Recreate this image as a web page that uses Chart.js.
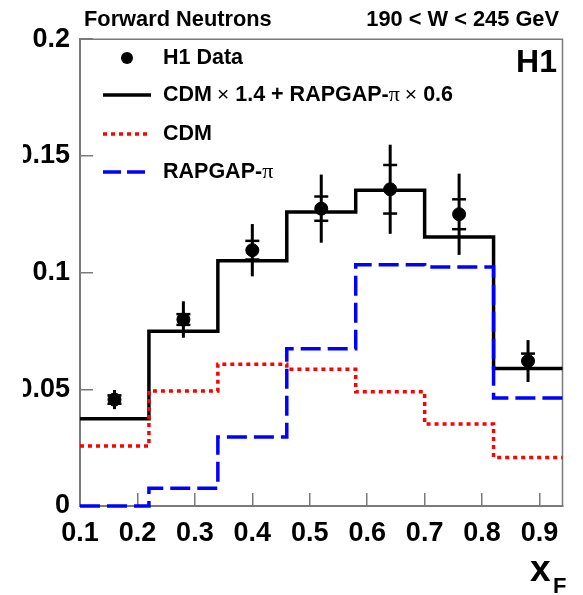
<!DOCTYPE html>
<html>
<head>
<meta charset="utf-8">
<script src="https://cdn.jsdelivr.net/npm/chart.js@4/dist/chart.umd.min.js"></script>
<style>
  html, body { margin: 0; padding: 0; background: #fff; }
  body { width: 583px; height: 595px; position: relative; overflow: hidden; }
  #c { position: absolute; left: 23px; top: 0; }
</style>
</head>
<body>
<canvas id="c" width="560" height="595"></canvas>
<script>
"use strict";

// bin edges in x_F and the three model histograms (one value per bin)
const EDGES = [0.1, 0.22, 0.34, 0.46, 0.58, 0.70, 0.82, 0.94];
const SUMA = [0.0374, 0.0749, 0.1051, 0.1260, 0.1353, 0.1153, 0.0589];
const CDM = [0.0257, 0.0493, 0.0607, 0.0586, 0.0489, 0.0351, 0.0208];
const RAPGAP = [0.0, 0.0076, 0.0296, 0.0674, 0.1034, 0.1024, 0.0463];

// H1 data: bin centres, values, total and statistical errors
const XF = [0.16, 0.28, 0.40, 0.52, 0.64, 0.76, 0.88];
const DATA = [0.0456, 0.0799, 0.1096, 0.1274, 0.1357, 0.1250, 0.0621];
const ERR_TOT = [0.0041, 0.0078, 0.0112, 0.0146, 0.0191, 0.0174, 0.0090];
const ERR_STAT = [0.0018, 0.0023, 0.0040, 0.0052, 0.0104, 0.0064, 0.0032];

const FONT = "'Liberation Sans', Arial, Helvetica, sans-serif";
const AXIS_GRAY = "#7a7a7a";

Chart.defaults.font.family = FONT;
Chart.defaults.color = "#000";

// one point per edge; the last edge repeats the last bin so the step closes
function histo(vals) {
  return EDGES.map((x, i) => ({ x, y: vals[Math.min(i, vals.length - 1)] }));
}

function lineSet(label, vals, color, dash, order) {
  return {
    type: "line", label, data: histo(vals), stepped: "before",
    borderColor: color, borderWidth: 3.5, borderDash: dash,
    pointRadius: 0, fill: false, clip: 8, order,
  };
}

// draws text made of pieces in different fonts, left to right
function runs(ctx, x, y, parts) {
  ctx.textBaseline = "middle";
  ctx.textAlign = "left";
  for (const [txt, font] of parts) {
    if (typeof txt === "number") { x += txt; continue; }
    ctx.font = font;
    ctx.fillText(txt, x, y);
    x += ctx.measureText(txt).width;
  }
}

const marcos = {
  id: "marcos",
  beforeDatasetsDraw(chart) {
    const { ctx, chartArea: a } = chart;
    ctx.save();
    ctx.strokeStyle = AXIS_GRAY;
    ctx.lineWidth = 1.5;
    ctx.beginPath();
    ctx.moveTo(a.left, a.top);
    ctx.lineTo(a.right, a.top);
    ctx.lineTo(a.right, a.bottom);
    ctx.stroke();
    ctx.restore();
  },
  afterDatasetsDraw(chart) {
    const { ctx, scales: { x, y } } = chart;
    ctx.save();
    ctx.strokeStyle = "#000";
    // error bars: full length = total, short caps = statistical
    XF.forEach((xv, i) => {
      const px = x.getPixelForValue(xv);
      ctx.lineWidth = 3;
      ctx.beginPath();
      ctx.moveTo(px, y.getPixelForValue(DATA[i] - ERR_TOT[i]));
      ctx.lineTo(px, y.getPixelForValue(DATA[i] + ERR_TOT[i]));
      ctx.stroke();
      ctx.lineWidth = 2.5;
      for (const s of [-1, 1]) {
        const py = y.getPixelForValue(DATA[i] + s * ERR_STAT[i]);
        ctx.beginPath();
        ctx.moveTo(px - 7, py);
        ctx.lineTo(px + 7, py);
        ctx.stroke();
      }
    });
    ctx.restore();
  },
  afterDraw(chart) {
    const ctx = chart.ctx;
    const B = "bold 21.5px " + FONT;
    const N = "21px " + FONT;
    const S = "22px 'Liberation Serif', 'DejaVu Serif', serif";
    ctx.save();
    ctx.fillStyle = "#000";

    // header
    runs(ctx, 61, 20, [["Forward Neutrons", "bold 21.8px " + FONT]]);
    ctx.font = "bold 21.8px " + FONT;
    ctx.textAlign = "right";
    ctx.fillText("190 < W < 245 GeV", 536, 20);

    ctx.font = "bold 32px " + FONT;
    ctx.textAlign = "right";
    ctx.fillText("H1", 534, 63);

    // legend
    ctx.beginPath();
    ctx.arc(104, 58, 6, 0, Math.PI * 2);
    ctx.fill();
    runs(ctx, 140, 58, [["H1 Data", B]]);

    const muestras = [
      [95, "#000", []],
      [134, "#ff0000", [4, 4]],
      [172, "#0000ff", [18, 6]],
    ];
    for (const [yy, col, dash] of muestras) {
      ctx.strokeStyle = col;
      ctx.lineWidth = 3.5;
      ctx.setLineDash(dash);
      ctx.beginPath();
      ctx.moveTo(80, yy);
      ctx.lineTo(128, yy);
      ctx.stroke();
    }
    ctx.setLineDash([]);
    runs(ctx, 140, 95, [["CDM", B], [5], ["\u00d7", N], [6], ["1.4 + RAPGAP-", B], ["\u03c0", S], [5], ["\u00d7", N], [6], ["0.6", B]]);
    runs(ctx, 140, 134, [["CDM", B]]);
    runs(ctx, 140, 172, [["RAPGAP-", B], ["\u03c0", S]]);

    // axis title x_F
    runs(ctx, 507, 571, [["x", "bold 37px " + FONT]]);
    runs(ctx, 530, 587, [["F", "bold 22px " + FONT]]);
    ctx.restore();
  },
};

const fmt = (v) => String(Math.round(v * 100) / 100);

new Chart(document.getElementById("c"), {
  type: "scatter",
  data: {
    datasets: [
      {
        label: "H1 Data", data: XF.map((x, i) => ({ x, y: DATA[i] })),
        backgroundColor: "#000", borderColor: "#000", pointRadius: 6.5, order: 0,
      },
      lineSet("CDM x 1.4 + RAPGAP-pi x 0.6", SUMA, "#000", [], 3),
      lineSet("CDM", CDM, "#ff0000", [4, 4], 2),
      lineSet("RAPGAP-pi", RAPGAP, "#0000ff", [20, 7], 1),
    ],
  },
  options: {
    responsive: false,
    animation: false,
    layout: { padding: { top: 39, right: 15, left: 0, bottom: 0 } },
    plugins: { legend: { display: false }, tooltip: { enabled: false } },
    scales: {
      x: {
        type: "linear", min: 0.1, max: 0.94,
        afterFit: (s) => { s.height = 89; },
        ticks: { stepSize: 0.1, includeBounds: false, padding: 24, callback: fmt,
          font: { size: 27, weight: "bold" }, maxRotation: 0 },
        grid: { drawOnChartArea: false, tickLength: -13, color: AXIS_GRAY, lineWidth: 1.5 },
        border: { color: AXIS_GRAY, width: 2 },
      },
      y: {
        min: 0, max: 0.2,
        afterFit: (s) => { s.width = 57; },
        ticks: { stepSize: 0.05, padding: 23, callback: fmt, font: { size: 27, weight: "bold" } },
        grid: { drawOnChartArea: false, tickLength: -13, color: AXIS_GRAY, lineWidth: 1.5 },
        border: { color: AXIS_GRAY, width: 2 },
      },
    },
  },
  plugins: [marcos],
});
</script>
</body>
</html>
